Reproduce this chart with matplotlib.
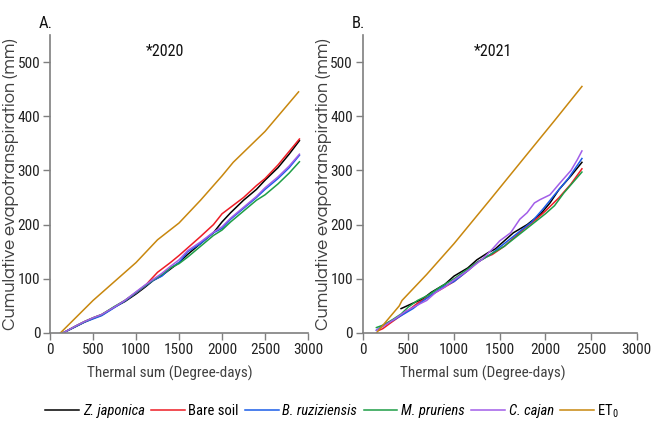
import numpy as np
import matplotlib.pyplot as plt
from matplotlib import font_manager

names = set(f.name for f in font_manager.fontManager.ttflist)


def pick(cands):
    for c in cands:
        if c in names:
            return c
    return 'DejaVu Sans'


NARROW = pick(['Roboto Condensed', 'Liberation Sans Narrow', 'Archivo Narrow', 'PT Sans Narrow', 'Open Sans Condensed'])
GOTHIC = pick(['Questrial', 'Didact Gothic', 'Mulish', 'DejaVu Sans'])
plt.rcParams['mathtext.fontset'] = 'custom'
plt.rcParams['mathtext.rm'] = NARROW

# ---- 2020 (panel A) ----
x_zj_a = [150, 300, 400, 500, 600, 750, 870, 1000, 1100, 1200, 1300, 1400, 1500, 1600, 1750, 1900, 2000, 2100, 2250, 2400, 2500, 2650, 2780, 2900]
y_zj_a = [0, 12, 20, 27, 33, 48, 58, 72, 84, 97, 106, 118, 130, 145, 165, 185, 205, 222, 245, 265, 282, 305, 330, 355]
x_bs_a = [150, 300, 400, 500, 600, 750, 870, 1000, 1100, 1150, 1250, 1400, 1500, 1600, 1750, 1900, 2000, 2100, 2250, 2400, 2500, 2650, 2780, 2900]
y_bs_a = [0, 13, 21, 28, 34, 48, 60, 74, 86, 95, 112, 130, 143, 157, 178, 200, 220, 232, 250, 272, 285, 310, 335, 358]
x_br_a = [150, 300, 400, 500, 600, 750, 870, 1000, 1100, 1200, 1300, 1400, 1500, 1600, 1750, 1900, 2000, 2100, 2250, 2400, 2500, 2650, 2780, 2900]
y_br_a = [0, 12, 20, 26, 32, 47, 59, 74, 86, 97, 105, 120, 130, 150, 165, 185, 193, 210, 230, 250, 265, 285, 305, 328]
x_mp_a = [150, 300, 400, 500, 600, 750, 870, 1000, 1100, 1200, 1300, 1400, 1500, 1600, 1750, 1900, 2000, 2100, 2250, 2400, 2500, 2650, 2780, 2900]
y_mp_a = [0, 13, 21, 28, 34, 49, 60, 75, 87, 98, 108, 120, 128, 140, 160, 180, 190, 205, 225, 245, 255, 275, 295, 316]
x_cc_a = [150, 300, 400, 500, 600, 750, 870, 1000, 1100, 1200, 1300, 1400, 1500, 1600, 1750, 1900, 2000, 2100, 2250, 2400, 2500, 2650, 2780, 2900]
y_cc_a = [0, 13, 21, 28, 34, 48, 60, 76, 88, 99, 110, 123, 135, 152, 168, 186, 196, 212, 232, 252, 268, 288, 308, 330]
x_et_a = [120, 500, 1000, 1250, 1500, 1750, 2000, 2130, 2500, 2890]
y_et_a = [0, 60, 130, 172, 203, 245, 290, 315, 372, 445]

# ---- 2021 (panel B) ----
x_zj_b = [420, 550, 650, 750, 900, 1000, 1150, 1250, 1370, 1450, 1550, 1650, 1800, 1950, 2050, 2150, 2280, 2400]
y_zj_b = [45, 55, 62, 75, 90, 105, 120, 135, 148, 155, 170, 185, 200, 220, 240, 265, 290, 315]
x_bs_b = [180, 220, 300, 400, 500, 600, 700, 850, 1000, 1150, 1250, 1350, 1420, 1550, 1650, 1750, 1900, 2000, 2150, 2280, 2400]
y_bs_b = [5, 8, 18, 30, 42, 55, 65, 80, 95, 115, 130, 140, 145, 160, 175, 190, 210, 225, 250, 275, 303]
x_br_b = [150, 230, 350, 450, 550, 650, 750, 880, 1000, 1150, 1250, 1400, 1550, 1700, 1850, 1980, 2100, 2250, 2400]
y_br_b = [5, 15, 25, 35, 45, 58, 70, 85, 95, 115, 130, 145, 165, 185, 205, 230, 255, 285, 322]
x_mp_b = [150, 230, 330, 420, 500, 600, 720, 850, 1000, 1150, 1250, 1400, 1550, 1700, 1850, 2000, 2100, 2200, 2400]
y_mp_b = [10, 15, 25, 35, 48, 60, 70, 85, 100, 118, 130, 145, 160, 180, 200, 220, 235, 258, 297]
x_cc_b = [150, 250, 370, 470, 580, 700, 800, 900, 1000, 1150, 1300, 1420, 1500, 1620, 1720, 1800, 1880, 1940, 2050, 2150, 2280, 2350, 2400]
y_cc_b = [5, 15, 28, 40, 50, 60, 75, 85, 98, 115, 135, 155, 170, 185, 210, 222, 240, 246, 255, 275, 300, 320, 336]
x_et_b = [150, 400, 430, 700, 1000, 1400, 1800, 2100, 2400]
y_et_b = [0, 50, 60, 108, 165, 247, 330, 392, 455]

labels = ['Z. japonica', 'Bare soil', 'B. ruziziensis', 'M. pruriens', 'C. cajan', 'ET$_0$']
italic = [True, False, True, True, True, False]
colors = ['#000000', '#ee1c25', '#1a5ce8', '#1e9e46', '#a25ee8', '#c8870e']

panels = [
    ('A.', '*2020', [(x_zj_a, y_zj_a), (x_bs_a, y_bs_a), (x_br_a, y_br_a), (x_mp_a, y_mp_a), (x_cc_a, y_cc_a), (x_et_a, y_et_a)]),
    ('B.', '*2021', [(x_zj_b, y_zj_b), (x_bs_b, y_bs_b), (x_br_b, y_br_b), (x_mp_b, y_mp_b), (x_cc_b, y_cc_b), (x_et_b, y_et_b)]),
]

fig = plt.figure(figsize=(6.54, 4.23), dpi=100)
rects = [[0.0765, 0.2128, 0.3945, 0.7045], [0.5546, 0.2128, 0.419, 0.7045]]
ylab_x = [-0.12, -0.112]
xlab_x = [0.465, 0.44]

handles = []
for i, (tag, title, series) in enumerate(panels):
    ax = fig.add_axes(rects[i])
    for j, (xs, ys) in enumerate(series):
        h, = ax.plot(xs, ys, color=colors[j], linewidth=1.1)
        if i == 0:
            handles.append(h)
    ax.set_xlim(0, 3000)
    ax.set_ylim(0, 550)
    ax.set_xticks([0, 500, 1000, 1500, 2000, 2500, 3000])
    ax.set_yticks([0, 100, 200, 300, 400, 500])
    for s in ['top', 'right']:
        ax.spines[s].set_visible(False)
    for s in ['left', 'bottom']:
        ax.spines[s].set_color('#7f7f7f')
        ax.spines[s].set_linewidth(1.2)
    ax.tick_params(direction='out', length=5, width=1.0, color='#7f7f7f', pad=2)
    for t in ax.get_xticklabels() + ax.get_yticklabels():
        t.set_fontfamily(NARROW)
        t.set_fontsize(11)
        t.set_color('#222222')
    ax.set_ylabel('Cumulative evapotranspiration (mm)', fontsize=13, color='#404040', family=GOTHIC)
    ax.yaxis.set_label_coords(ylab_x[i], 0.5)
    ax.set_xlabel('Thermal sum (Degree-days)', fontsize=11, color='#404040', family=NARROW)
    ax.xaxis.set_label_coords(xlab_x[i], -0.11)
    ax.text(0.445 if i == 0 else 0.475, 0.945, title, transform=ax.transAxes, ha='center', va='center',
            fontsize=11.5, family=NARROW, color='#111111')
    ax.text(-0.015, 1.04, tag, transform=ax.transAxes, ha='center', va='center',
            fontsize=12, family=NARROW, color='#111111')

leg = fig.legend(handles, labels, loc='center', bbox_to_anchor=(0.508, 0.028), ncol=6, frameon=False,
                 handlelength=2.3, handletextpad=0.25, columnspacing=0.45,
                 prop={'family': NARROW, 'size': 10.5})
for t, it in zip(leg.get_texts(), italic):
    if it:
        t.set_fontstyle('italic')

fig.savefig('out.png', dpi=100)
